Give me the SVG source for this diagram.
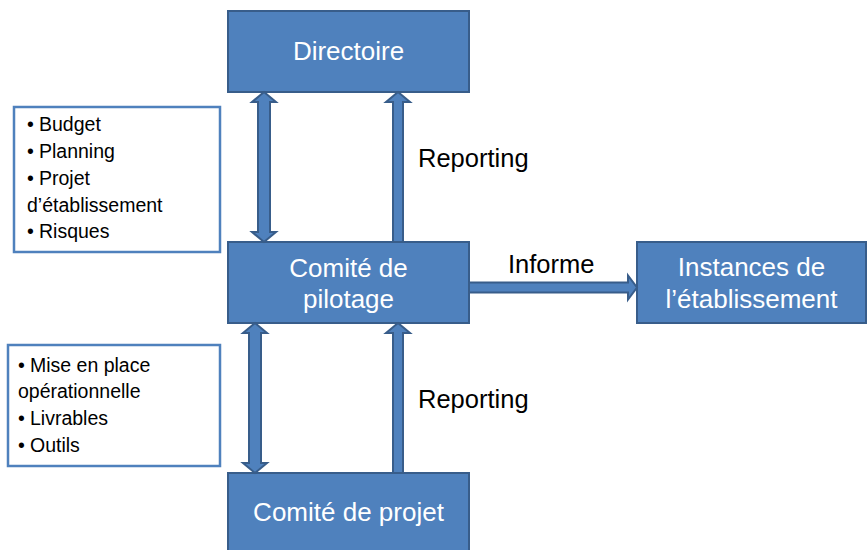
<svg xmlns="http://www.w3.org/2000/svg" width="868" height="550" viewBox="0 0 868 550">
<style>
.node{fill:#4F81BD;stroke:#385D8A;stroke-width:2}
.nt{font-family:"Liberation Sans",Arial,sans-serif;font-size:26px;fill:#FFFFFF;text-anchor:middle}
.lbl{font-family:"Liberation Sans",Arial,sans-serif;font-size:25.5px;fill:#000000}
.note{fill:#FFFFFF;stroke:#4F81BD;stroke-width:2.5}
.nl{font-family:"Liberation Sans",Arial,sans-serif;font-size:19.5px;fill:#000000}
.arr{fill:#4F81BD;stroke:#385D8A;stroke-width:2;stroke-linejoin:miter}
</style>
<rect width="868" height="550" fill="#FFFFFF"/>
<g id="directoire">
<rect class="node" x="228" y="11" width="241" height="81"/>
<text class="nt" x="348.5" y="60">Directoire</text>
</g>
<g id="comite-pilotage">
<rect class="node" x="228" y="242" width="241" height="81"/>
<text class="nt" x="348.5" y="277">Comité de</text>
<text class="nt" x="348.5" y="308">pilotage</text>
</g>
<g id="comite-projet">
<rect class="node" x="228" y="473" width="241" height="81"/>
<text class="nt" x="348.5" y="521">Comité de projet</text>
</g>
<g id="instances">
<rect class="node" x="637" y="242" width="229" height="81"/>
<text class="nt" x="751.5" y="276">Instances de</text>
<text class="nt" x="751.5" y="308">l’établissement</text>
</g>
<g id="note-pilotage">
<rect class="note" x="14" y="107" width="206" height="145"/>
<text class="nl" x="27" y="131">•<tspan x="39">Budget</tspan></text>
<text class="nl" x="27" y="158">•<tspan x="39">Planning</tspan></text>
<text class="nl" x="27" y="185">•<tspan x="39">Projet</tspan></text>
<text class="nl" x="27" y="212">d’établissement</text>
<text class="nl" x="27" y="238">•<tspan x="39">Risques</tspan></text>
</g>
<g id="note-projet">
<rect class="note" x="8" y="345" width="212" height="121"/>
<text class="nl" x="18" y="372">•<tspan x="30">Mise en place</tspan></text>
<text class="nl" x="18" y="398">opérationnelle</text>
<text class="nl" x="18" y="425">•<tspan x="30">Livrables</tspan></text>
<text class="nl" x="18" y="452">•<tspan x="30">Outils</tspan></text>
</g>
<g id="connectors">
<polygon class="arr" points="264,92 276,102 270,102 270,232 276,232 264,242 252,232 258,232 258,102 252,102"/>
<polygon class="arr" points="398,92 410,102 403,102 403,242 393,242 393,102 386,102"/>
<polygon class="arr" points="255,323 267,333 261,333 261,463 267,463 255,473 243,463 249,463 249,333 243,333"/>
<polygon class="arr" points="398,323 410,333 403,333 403,473 393,473 393,333 386,333"/>
<polygon class="arr" points="469,282.5 628,282.5 628,275.5 637,287.5 628,299.5 628,292.5 469,292.5"/>
<text class="lbl" x="418" y="167">Reporting</text>
<text class="lbl" x="418" y="408">Reporting</text>
<text class="lbl" x="508" y="273">Informe</text>
</g>
</svg>
